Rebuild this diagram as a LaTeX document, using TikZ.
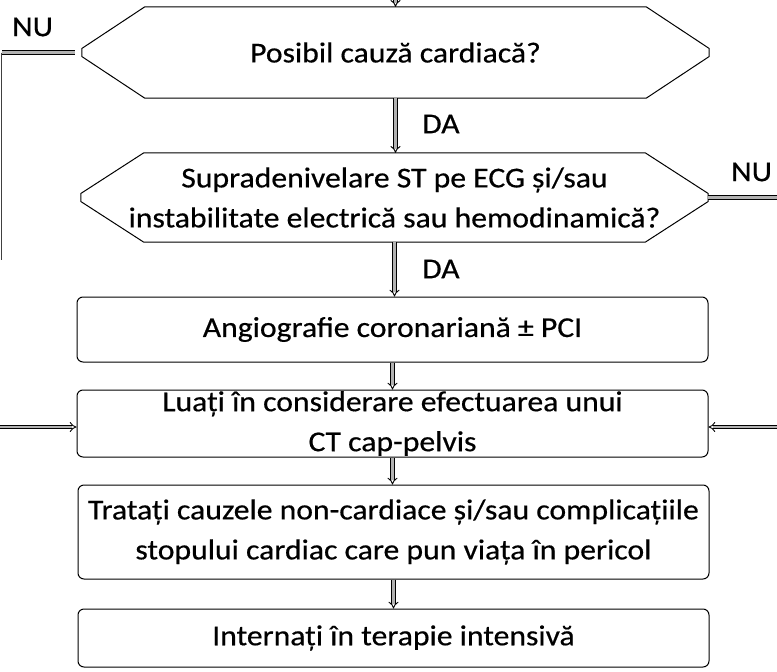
\documentclass[tikz,border=0pt]{standalone}
\usepackage{fontspec}
\setmainfont{Carlito}[FakeStretch=1.1,FakeBold=0.5]
\usetikzlibrary{arrows.meta}
\begin{document}
\begin{tikzpicture}[x=1pt,y=-1pt,
  txt/.style={font=\fontsize{28.8}{40}\selectfont},
  lbl/.style={txt, inner sep=0pt, anchor=west},
  rbox/.style={txt, draw=black, line width=1pt, rounded corners=6pt, align=center, inner sep=0pt, minimum width=631pt},
  hexbox/.style={txt, align=center, inner sep=0pt, minimum width=627pt},
  hexline/.style={draw=black, line width=1pt},
  link/.style={draw=black, line width=0.9pt, double=gray!60, double distance=2.6pt},
  flow/.style={link, -{Implies}},
]
\useasboundingbox (0,0) rectangle (777,672);
\fill[white] (0,0) rectangle (777,672);

% decision hexagons
\node[hexbox, minimum height=91pt] (h1) at (395.5,52.5) {Posibil cauză cardiacă?};
\node[hexbox, minimum height=89pt] (h2) at (394.5,197.5) {Supradenivelare ST pe ECG și/sau\\instabilitate electrică sau hemodinamică?};
\foreach \h in {h1,h2}{
  \path[hexline] ([xshift=63pt]\h.north west) -- ([xshift=-63pt]\h.north east)
    -- ([yshift=4pt]\h.east) -- ([yshift=-4pt]\h.east)
    -- ([xshift=-63pt]\h.south east) -- ([xshift=63pt]\h.south west)
    -- ([yshift=-4pt]\h.west) -- ([yshift=4pt]\h.west) -- cycle;
}

% boxes
\node[rbox, minimum height=65pt] (angio) at (392.5,329.5) {Angiografie coronariană ± PCI};
\node[rbox, minimum height=67pt] (luati) at (392.5,423.5) {Luați în considerare efectuarea unui\\CT cap-pelvis};
\node[rbox, minimum height=94pt] (trat) at (393.5,532) {Tratați cauzele non-cardiace și/sau complicațiile\\stopului cardiac care pun viața în pericol};
\node[rbox, minimum height=58pt] (intern) at (393.5,638) {Internați în terapie intensivă};

% labels
\node[lbl] (da1) at (422,124) {DA};
\node[lbl] (da2) at (422,269) {DA};
\node[lbl] (nu1) at (12,27) {NU};
\node[lbl] (nu2) at (731,172) {NU};

% connectors
\coordinate (top) at (395.5,-12);
\draw[flow] (top) -- (h1.north);
\draw[flow] (h1.south) -- (h1.south |- h2.north);
\draw[flow] (h2.south) -- (h2.south |- angio.north);
\draw[flow] (angio.north |- angio.south) -- (luati.north);
\draw[flow] (luati.south) -- (trat.north -| luati.south);
\draw[flow] (trat.south) -- (intern.north);

\coordinate (lc) at (1.5,52.5);
\coordinate (ld) at (1.5,260);
\draw[link] ([xshift=-7pt]h1.west) -- (lc);
\draw[black!75, line width=1pt] (lc) -- (ld);

\coordinate (rc) at (780,197.5);
\draw[link] (h2.east) -- (rc);

\coordinate (la) at (-3,427);
\draw[flow] (la) -- (luati.west |- la);
\coordinate (ra) at (780,427);
\draw[flow] (ra) -- (luati.east |- ra);
\end{tikzpicture}
\end{document}
